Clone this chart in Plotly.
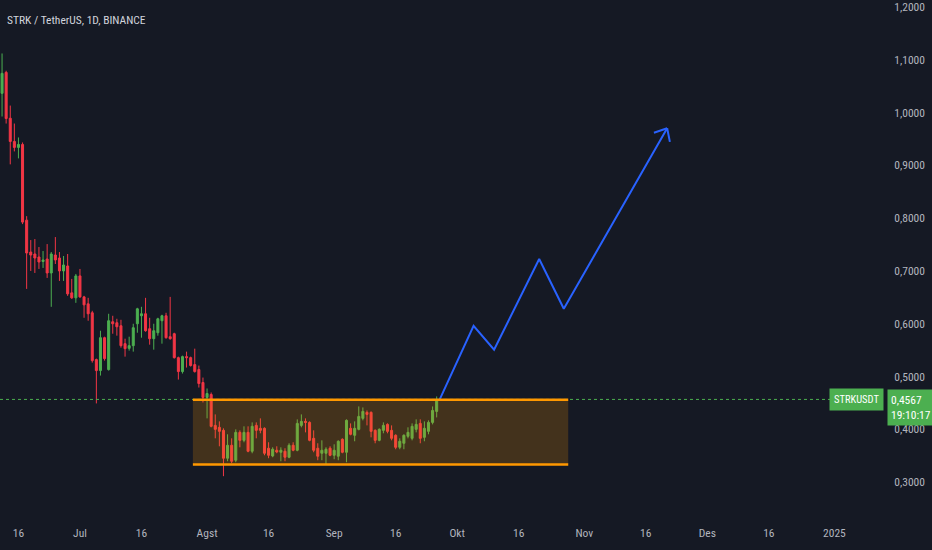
import numpy as np
import pandas as pd
import plotly.graph_objects as go

# ---------------- data ----------------
start_date = "2024-06-12"
opens = [1.0364, 1.0760, 0.9892, 0.9453, 0.9340, 0.9396, 0.7962, 0.7358, 0.7321, 0.7264,
         0.7179, 0.7226, 0.6962, 0.7302, 0.7245, 0.7000, 0.7094, 0.6585, 0.6491, 0.6906,
         0.6509, 0.6377, 0.6208, 0.5321, 0.5113, 0.5736, 0.5132, 0.6038, 0.6019, 0.5962,
         0.5623, 0.5534, 0.5585, 0.6000, 0.6151, 0.6189, 0.5906, 0.5717, 0.5830, 0.6057,
         0.6151, 0.5755, 0.5811, 0.5358, 0.5094, 0.5377, 0.5358, 0.5226, 0.5132, 0.4887,
         0.4604, 0.4660, 0.4075, 0.4038, 0.3981, 0.3453, 0.3698, 0.3415, 0.3943, 0.3792,
         0.3943, 0.3585, 0.4075, 0.4019, 0.4019, 0.3642, 0.3496, 0.3604, 0.3566, 0.3585,
         0.3472, 0.3698, 0.3604, 0.4075, 0.4151, 0.4132, 0.3830, 0.3642, 0.3547, 0.3547,
         0.3642, 0.3509, 0.3491, 0.3811, 0.3566, 0.4019, 0.3887, 0.4000, 0.4208, 0.4321,
         0.4321, 0.3981, 0.3792, 0.3981, 0.4094, 0.3981, 0.3887, 0.3660, 0.3736, 0.3868,
         0.3830, 0.4000, 0.4113, 0.3849, 0.3962, 0.4132, 0.4340]
highs = [1.1119, 1.0792, 1.0132, 0.9792, 0.9528, 0.9434, 0.8038, 0.7585, 0.7604, 0.7453,
         0.7377, 0.7509, 0.7358, 0.7642, 0.7358, 0.7283, 0.7321, 0.6849, 0.6943, 0.7038,
         0.6528, 0.6491, 0.6245, 0.5340, 0.5868, 0.5755, 0.6189, 0.6151, 0.6094, 0.6075,
         0.5717, 0.5755, 0.6000, 0.6302, 0.6321, 0.6491, 0.6113, 0.6000, 0.6113, 0.6170,
         0.6208, 0.6509, 0.5830, 0.5377, 0.5396, 0.5472, 0.5377, 0.5528, 0.5208, 0.4981,
         0.4774, 0.4698, 0.4283, 0.4151, 0.4019, 0.3906, 0.3830, 0.4000, 0.3981, 0.4057,
         0.4057, 0.4132, 0.4132, 0.4208, 0.4038, 0.3755, 0.3660, 0.3679, 0.3660, 0.3642,
         0.3736, 0.3755, 0.4189, 0.4283, 0.4208, 0.4151, 0.3981, 0.3736, 0.3792, 0.3660,
         0.3679, 0.3717, 0.3792, 0.3830, 0.4189, 0.4113, 0.4151, 0.4434, 0.4415, 0.4358,
         0.4340, 0.4000, 0.4019, 0.4132, 0.4113, 0.4075, 0.3906, 0.3830, 0.3906, 0.4038,
         0.4113, 0.4189, 0.4189, 0.4151, 0.4170, 0.4434, 0.4623]
lows = [0.9925, 0.9792, 0.9019, 0.9264, 0.9132, 0.7887, 0.6660, 0.7000, 0.6962, 0.7038,
        0.7057, 0.6868, 0.6321, 0.7132, 0.6811, 0.6811, 0.6528, 0.6472, 0.6396, 0.6491,
        0.6113, 0.6057, 0.5264, 0.4491, 0.5019, 0.5302, 0.5113, 0.5811, 0.5774, 0.5547,
        0.5377, 0.5491, 0.5472, 0.5830, 0.5736, 0.5849, 0.5604, 0.5509, 0.5774, 0.5623,
        0.5717, 0.5698, 0.5340, 0.4943, 0.5057, 0.5170, 0.5189, 0.5075, 0.4792, 0.4509,
        0.4208, 0.4038, 0.3830, 0.3679, 0.3113, 0.3396, 0.3358, 0.3377, 0.3660, 0.3755,
        0.3566, 0.3547, 0.3830, 0.3925, 0.3509, 0.3453, 0.3472, 0.3547, 0.3396, 0.3396,
        0.3453, 0.3585, 0.3585, 0.4038, 0.3943, 0.3774, 0.3566, 0.3415, 0.3415, 0.3340,
        0.3491, 0.3434, 0.3415, 0.3547, 0.3377, 0.3887, 0.3774, 0.3981, 0.4170, 0.4075,
        0.3849, 0.3736, 0.3774, 0.3925, 0.3925, 0.3792, 0.3623, 0.3623, 0.3623, 0.3830,
        0.3792, 0.3943, 0.3736, 0.3774, 0.3906, 0.4094, 0.4226]
closes = [1.0742, 0.9887, 0.9453, 0.9340, 0.9396, 0.7925, 0.7340, 0.7302, 0.7245, 0.7170,
          0.7208, 0.6962, 0.7321, 0.7208, 0.7000, 0.7113, 0.6566, 0.6491, 0.6906, 0.6509,
          0.6358, 0.6189, 0.5302, 0.5113, 0.5736, 0.5340, 0.6057, 0.6000, 0.5943, 0.5585,
          0.5528, 0.5585, 0.5925, 0.6283, 0.6189, 0.5868, 0.5717, 0.5868, 0.6094, 0.6151,
          0.5736, 0.5717, 0.5358, 0.5094, 0.5377, 0.5358, 0.5208, 0.5094, 0.4868, 0.4604,
          0.4679, 0.4057, 0.4000, 0.3962, 0.3453, 0.3698, 0.3396, 0.3943, 0.3792, 0.3943,
          0.3585, 0.4057, 0.3981, 0.3981, 0.3547, 0.3509, 0.3623, 0.3572, 0.3604, 0.3472,
          0.3698, 0.3604, 0.4113, 0.4151, 0.4132, 0.3792, 0.3604, 0.3491, 0.3604, 0.3623,
          0.3509, 0.3604, 0.3774, 0.3566, 0.4170, 0.3906, 0.4019, 0.4245, 0.4340, 0.4283,
          0.3962, 0.3792, 0.4000, 0.4075, 0.3962, 0.3830, 0.3660, 0.3774, 0.3887, 0.3943,
          0.4057, 0.4094, 0.3830, 0.4019, 0.4132, 0.4358, 0.4567]

# range box (drawn zone)
box_dates = ["2024-07-28 13:00", "2024-10-28 02:00"]
box_prices = [0.3334, 0.4560]

# projected path
path_dates = ["2024-09-26 18:00", "2024-10-05 00:00", "2024-10-10 00:00",
              "2024-10-21 00:00", "2024-10-27 00:00", "2024-11-21 05:00"]
path_prices = [0.4567, 0.5962, 0.5509, 0.7226, 0.6283, 0.9704]

last_price_text = "0,4567"
countdown_text = "19:10:17"
symbol_text = "STRKUSDT"
title_text = "STRK / TetherUS, 1D, BINANCE"

y_tickvals = [0.3, 0.4, 0.5, 0.6, 0.7, 0.8, 0.9, 1.0, 1.1, 1.2]
y_ticktext = ["0,3000", "0,4000", "0,5000", "0,6000", "0,7000",
              "0,8000", "0,9000", "1,0000", "1,1000", "1,2000"]
x_tickvals = ["2024-06-16", "2024-07-01", "2024-07-16", "2024-08-01", "2024-08-16",
              "2024-09-01", "2024-09-16", "2024-10-01", "2024-10-16", "2024-11-01",
              "2024-11-16", "2024-12-01", "2024-12-16", "2025-01-01"]
x_ticktext = ["16", "Jul", "16", "Agst", "16", "Sep", "16", "Okt", "16", "Nov",
              "16", "Des", "16", "2025"]

# ---------------- layout constants ----------------
W, H = 932, 550
M_L, M_R, M_T, M_B = 0, 46, 0, 30
x_range = [pd.Timestamp("2024-06-11 12:00"), pd.Timestamp("2025-01-13 14:00")]
y_range = [0.2283, 1.2094]
BG = "#151924"
TXT = "#b2b5be"
UP = "#4caf50"
DOWN = "#f23645"
ORANGE = "#ff9800"
BLUE = "#2962ff"
FONT = "Roboto Condensed, Roboto, sans-serif"

dates = pd.date_range(start_date, periods=len(opens), freq="D")

fig = go.Figure()
fig.add_trace(go.Candlestick(
    x=dates, open=opens, high=highs, low=lows, close=closes,
    increasing=dict(line=dict(color=UP, width=1), fillcolor=UP),
    decreasing=dict(line=dict(color=DOWN, width=1), fillcolor=DOWN),
    whiskerwidth=0, showlegend=False, hoverinfo="skip",
))

# projected path
pd_path = pd.to_datetime(path_dates)
fig.add_trace(go.Scatter(
    x=pd_path, y=path_prices, mode="lines",
    line=dict(color=BLUE, width=2), showlegend=False, hoverinfo="skip",
))

# arrow head computed in pixel space from the last path segment
plot_w = W - M_L - M_R
plot_h = H - M_T - M_B
span_days = (x_range[1] - x_range[0]) / pd.Timedelta(days=1)
px_day = plot_w / span_days
px_price = plot_h / (y_range[1] - y_range[0])

def to_px(d, p):
    return ((d - x_range[0]) / pd.Timedelta(days=1) * px_day, -(p - y_range[0]) * px_price)

def from_px(px, py):
    return (x_range[0] + pd.Timedelta(days=px / px_day), y_range[0] - py / px_price)

tx, ty = to_px(pd_path[-1], path_prices[-1])
sx, sy = to_px(pd_path[-2], path_prices[-2])
ang = np.arctan2(sy - ty, sx - tx)
head_len, half = 14, np.radians(41)
for s in (-1, 1):
    wx = tx + head_len * np.cos(ang + s * half)
    wy = ty + head_len * np.sin(ang + s * half)
    d1, p1 = from_px(wx, wy)
    fig.add_trace(go.Scatter(
        x=[d1, pd_path[-1]], y=[p1, path_prices[-1]], mode="lines",
        line=dict(color=BLUE, width=2), showlegend=False, hoverinfo="skip",
    ))

shapes = []
# range box fill
shapes.append(dict(type="rect", xref="x", yref="y",
                   x0=box_dates[0], x1=box_dates[1], y0=box_prices[0], y1=box_prices[1],
                   fillcolor="rgba(255,152,0,0.2)", line=dict(width=0), layer="above"))
# last price dotted line
shapes.append(dict(type="line", xref="paper", yref="y", x0=0, x1=838 / plot_w,
                   y0=closes[-1], y1=closes[-1],
                   line=dict(color=UP, width=1, dash="dot"), layer="above"))
# orange borders
for p in box_prices:
    shapes.append(dict(type="line", xref="x", yref="y",
                       x0=box_dates[0], x1=box_dates[1], y0=p, y1=p,
                       line=dict(color=ORANGE, width=2.5), layer="above"))

annotations = [
    dict(text=title_text, xref="paper", yref="paper", x=0, y=1, xshift=5, yshift=-18,
         xanchor="left", yanchor="middle", showarrow=False,
         font=dict(family=FONT, size=11.5, color="#d1d4dc")),
    dict(text=symbol_text, xref="paper", yref="y", x=1, y=closes[-1], xshift=-2,
         xanchor="right", yanchor="middle", showarrow=False,
         bgcolor=UP, borderpad=4, font=dict(family=FONT, size=10.5, color="#ffffff")),
    dict(text=last_price_text + "<br>" + countdown_text, xref="paper", yref="y",
         x=1, y=closes[-1], xshift=1, yshift=10, xanchor="left", yanchor="top",
         showarrow=False, bgcolor=UP, borderpad=3, align="left",
         font=dict(family=FONT, size=11.5, color="#ffffff")),
]

fig.update_layout(
    width=W, height=H,
    margin=dict(l=M_L, r=M_R, t=M_T, b=M_B),
    paper_bgcolor=BG, plot_bgcolor=BG,
    font=dict(family=FONT, color=TXT, size=11.5),
    shapes=shapes, annotations=annotations,
    showlegend=False,
    xaxis=dict(range=x_range, rangeslider=dict(visible=False), showgrid=False,
               zeroline=False, showline=False, tickvals=x_tickvals, ticktext=x_ticktext,
               ticks="outside", ticklen=2, tickcolor="rgba(0,0,0,0)",
               tickfont=dict(family=FONT, size=11.5, color=TXT)),
    yaxis=dict(range=y_range, side="right", showgrid=False, zeroline=False,
               showline=False, tickvals=y_tickvals, ticktext=y_ticktext,
               ticks="outside", ticklen=5, tickcolor="rgba(0,0,0,0)",
               ticklabeloverflow="allow",
               tickfont=dict(family=FONT, size=11.5, color=TXT)),
)

fig.write_html("out.html", config={"displayModeBar": False},
               post_script="document.body.style.margin='0';")
